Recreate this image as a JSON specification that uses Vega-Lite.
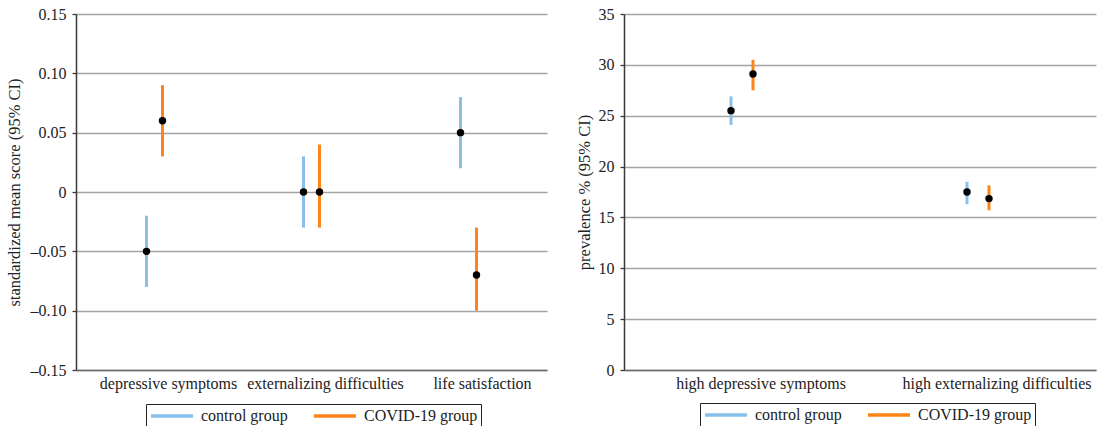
{
  "$schema": "https://vega.github.io/schema/vega-lite/v6.json",
  "background": "white",
  "padding": {"left": 6, "top": 6, "right": 2, "bottom": 0},
  "spacing": 29,
  "hconcat": [
    {
      "width": 471,
      "height": 356,
      "data": {
        "values": [
          {"measure": "depressive symptoms", "group": "control group", "mean": -0.05, "lower": -0.08, "upper": -0.02},
          {"measure": "depressive symptoms", "group": "COVID-19 group", "mean": 0.06, "lower": 0.03, "upper": 0.09},
          {"measure": "externalizing difficulties", "group": "control group", "mean": 0.0, "lower": -0.03, "upper": 0.03},
          {"measure": "externalizing difficulties", "group": "COVID-19 group", "mean": 0.0, "lower": -0.03, "upper": 0.04},
          {"measure": "life satisfaction", "group": "control group", "mean": 0.05, "lower": 0.02, "upper": 0.08},
          {"measure": "life satisfaction", "group": "COVID-19 group", "mean": -0.07, "lower": -0.10, "upper": -0.03}
        ]
      },
      "encoding": {
        "x": {
          "field": "measure", "type": "nominal",
          "sort": ["depressive symptoms", "externalizing difficulties", "life satisfaction"],
          "scale": {"paddingInner": 0, "paddingOuter": 0},
          "axis": {"title": null, "labelAngle": 0, "ticks": false, "labelPadding": 5, "labelOffset": 14, "labelLimit": 0, "domainColor": "#6a6a6a", "domainWidth": 1.3, "grid": false}
        },
        "xOffset": {
          "field": "group", "type": "nominal",
          "sort": ["control group", "COVID-19 group"],
          "scale": {"type": "point", "range": [70.5, 86.5], "padding": 0}
        }
      },
      "layer": [
        {
          "mark": {"type": "rule", "strokeWidth": 3},
          "encoding": {
            "y": {
              "field": "lower", "type": "quantitative",
              "scale": {"domain": [-0.15, 0.15], "nice": false, "zero": false},
              "axis": {
                "title": "standardized mean score (95% CI)",
                "values": [-0.15, -0.1, -0.05, 0, 0.05, 0.1, 0.15],
                "labelExpr": "abs(datum.value) < 1e-9 ? '0' : (datum.value < 0 ? '–' : '') + format(abs(datum.value), '.2f')",
                "titlePadding": 8
              }
            },
            "y2": {"field": "upper"},
            "color": {
              "field": "group", "type": "nominal",
              "sort": ["control group", "COVID-19 group"],
              "scale": {"domain": ["control group", "COVID-19 group"], "range": ["#88C0EA", "#FF8316"]},
              "legend": {"legendX": 70, "legendY": 390}
            }
          }
        },
        {
          "mark": {"type": "point", "filled": true, "color": "black", "size": 55, "opacity": 1},
          "encoding": {
            "y": {"field": "mean", "type": "quantitative"}
          }
        }
      ]
    },
    {
      "width": 472,
      "height": 356,
      "data": {
        "values": [
          {"measure": "high depressive symptoms", "group": "control group", "mean": 25.5, "lower": 24.1, "upper": 26.9},
          {"measure": "high depressive symptoms", "group": "COVID-19 group", "mean": 29.1, "lower": 27.5, "upper": 30.5},
          {"measure": "high externalizing difficulties", "group": "control group", "mean": 17.5, "lower": 16.3, "upper": 18.5},
          {"measure": "high externalizing difficulties", "group": "COVID-19 group", "mean": 16.85, "lower": 15.7, "upper": 18.15}
        ]
      },
      "encoding": {
        "x": {
          "field": "measure", "type": "nominal",
          "sort": ["high depressive symptoms", "high externalizing difficulties"],
          "scale": {"paddingInner": 0, "paddingOuter": 0},
          "axis": {"title": null, "labelAngle": 0, "ticks": false, "labelPadding": 5, "labelOffset": 19, "labelLimit": 0, "domainColor": "#6a6a6a", "domainWidth": 1.3, "grid": false}
        },
        "xOffset": {
          "field": "group", "type": "nominal",
          "sort": ["control group", "COVID-19 group"],
          "scale": {"type": "point", "range": [107, 129], "padding": 0}
        }
      },
      "layer": [
        {
          "mark": {"type": "rule", "strokeWidth": 3},
          "encoding": {
            "y": {
              "field": "lower", "type": "quantitative",
              "scale": {"domain": [0, 35], "nice": false},
              "axis": {
                "title": "prevalence % (95% CI)",
                "values": [0, 5, 10, 15, 20, 25, 30, 35],
                "titlePadding": 6
              }
            },
            "y2": {"field": "upper"},
            "color": {
              "field": "group", "type": "nominal",
              "sort": ["control group", "COVID-19 group"],
              "scale": {"domain": ["control group", "COVID-19 group"], "range": ["#88C0EA", "#FF8316"]},
              "legend": {"legendX": 76, "legendY": 389}
            }
          }
        },
        {
          "mark": {"type": "point", "filled": true, "color": "black", "size": 55, "opacity": 1},
          "encoding": {
            "y": {"field": "mean", "type": "quantitative"}
          }
        }
      ]
    }
  ],
  "resolve": {
    "scale": {"x": "independent", "y": "independent", "color": "independent", "xOffset": "independent"},
    "legend": {"color": "independent"},
    "axis": {"x": "independent", "y": "independent"}
  },
  "config": {
    "view": {"stroke": null},
    "font": "Liberation Serif",
    "axis": {
      "labelFont": "Liberation Serif",
      "labelFontSize": 16,
      "labelColor": "#222222",
      "titleFont": "Liberation Serif",
      "titleFontSize": 16.5,
      "titleFontWeight": "normal",
      "titleColor": "#222222"
    },
    "axisY": {
      "grid": true,
      "gridColor": "#a3a3a3",
      "gridWidth": 1.3,
      "domainColor": "#3a3a3a",
      "domainWidth": 1.5,
      "tickColor": "#3a3a3a",
      "tickSize": 4,
      "tickWidth": 1.3,
      "labelPadding": 6
    },
    "legend": {
      "orient": "none",
      "direction": "horizontal",
      "title": null,
      "strokeColor": "#222222",
      "padding": 3,
      "labelFont": "Liberation Serif",
      "labelFontSize": 16,
      "labelColor": "#222222",
      "symbolType": "M-1,0L5,0",
      "symbolSize": 196,
      "symbolStrokeWidth": 3.5,
      "labelOffset": 34,
      "columnPadding": 19
    }
  }
}
